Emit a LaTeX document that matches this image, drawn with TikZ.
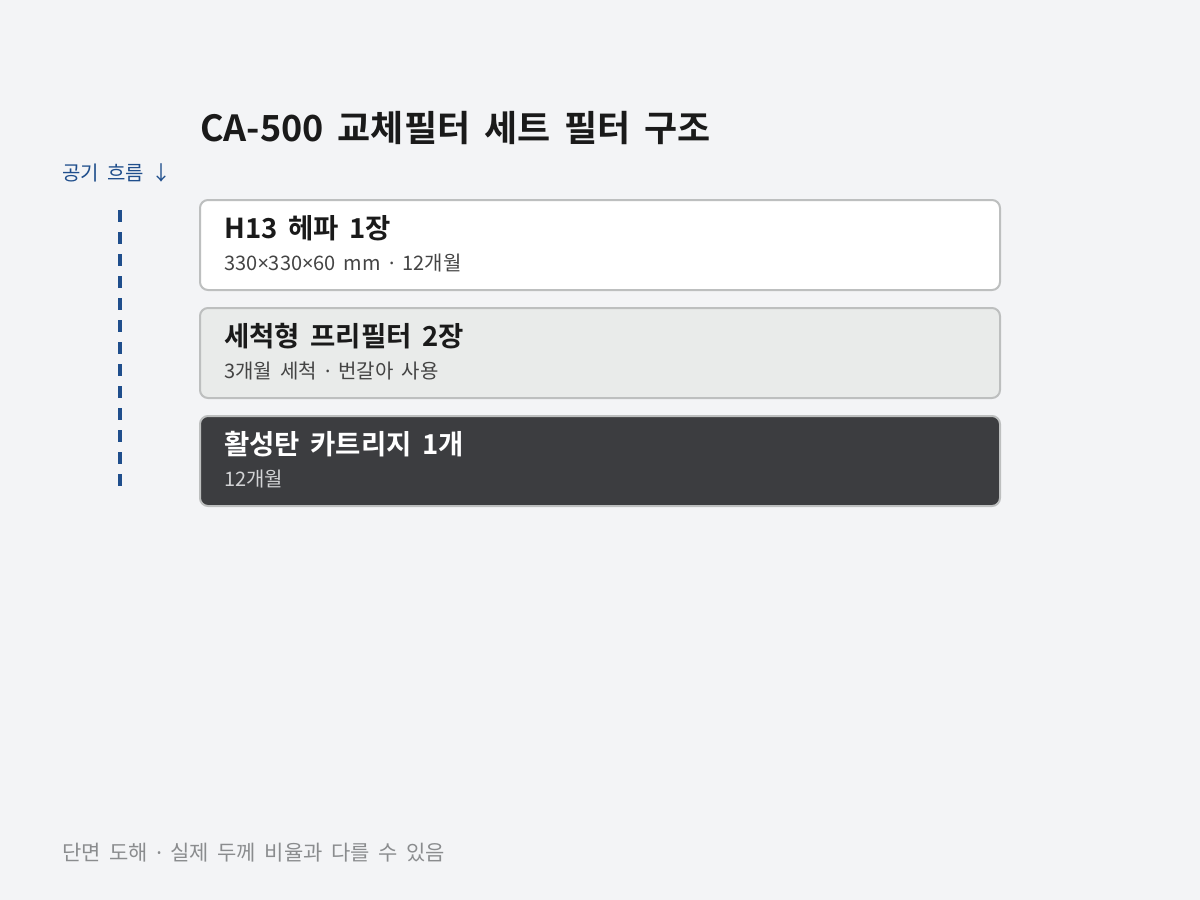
\documentclass[tikz,border=0pt]{standalone}
\usepackage{fontspec}
\setmainfont{Noto Sans CJK KR}
\newfontfamily\kr[WordSpace=1.8]{Noto Sans CJK KR}
\newfontfamily\krb[WordSpace=1.7]{Noto Sans CJK KR Bold}
\newfontfamily\lat{Noto Sans}
\newcommand{\mdot}{{\lat ·}}
\newcommand{\tms}{{\lat ×}}
\definecolor{bg}{HTML}{F3F4F6}
\definecolor{ink}{HTML}{1A1A1A}
\definecolor{subink}{HTML}{444444}
\definecolor{flow}{HTML}{1F4E8C}
\definecolor{edge}{HTML}{BDBFBF}
\definecolor{pre}{HTML}{E9EBEA}
\definecolor{carbon}{HTML}{3C3D40}
\definecolor{foot}{HTML}{8A8C8E}
\definecolor{lightsub}{HTML}{D2D3D5}
\tikzset{
  layerbox/.style={draw=edge, line width=2pt, rounded corners=8pt},
  ttl/.style={anchor=base west, inner sep=0pt, font=\krb\fontsize{27.5}{32}\selectfont, text=ink},
  sub/.style={anchor=base west, inner sep=0pt, font=\kr\fontsize{20}{24}\selectfont, text=subink},
}
\begin{document}
\begin{tikzpicture}[x=1pt,y=-1pt]
\fill[bg] (0,0) rectangle (1200,900);
\useasboundingbox (0,0) rectangle (1200,900);
\node[anchor=base west, inner sep=0pt, font=\krb\fontsize{36}{42}\selectfont, text=ink] (title) at (200,141) {CA-500 교체필터 세트 필터 구조};
\node[anchor=base west, inner sep=0pt, font=\kr\fontsize{20}{24}\selectfont, text=flow] (flowlbl) at (62,180) {공기 흐름 ↓};
\coordinate (flowtop) at (120,210);
\coordinate (flowbot) at (120,486);
\draw[flow, line width=4.5pt, dash pattern=on 12pt off 10pt] (flowtop) -- (flowbot);
\draw[layerbox, fill=white] (200,200) rectangle (1000,290);
\node[ttl] (t1) at (224,238) {H13 헤파 1장};
\node[sub] (s1) at (224,270) {330\tms330\tms60 mm \mdot{} 12개월};
\draw[layerbox, fill=pre] (200,308) rectangle (1000,398);
\node[ttl] (t2) at (224,346) {세척형 프리필터 2장};
\node[sub] (s2) at (224,378) {3개월 세척 \mdot{} 번갈아 사용};
\draw[layerbox, fill=carbon] (200,416) rectangle (1000,506);
\node[ttl, text=white] (t3) at (224,454) {활성탄 카트리지 1개};
\node[sub, text=lightsub] (s3) at (224,486) {12개월};
\node[anchor=base west, inner sep=0pt, font=\kr\fontsize{21}{25}\selectfont, text=foot] (footer) at (62,860) {단면 도해 \mdot{} 실제 두께 비율과 다를 수 있음};
\end{tikzpicture}
\end{document}
